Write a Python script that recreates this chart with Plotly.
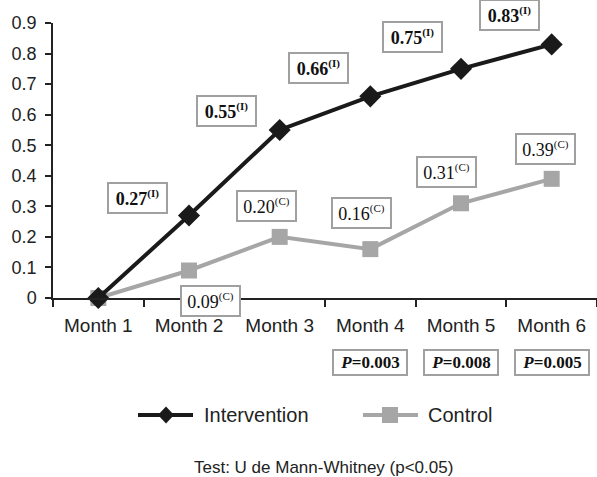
import plotly.graph_objects as go

months = ["Month 1", "Month 2", "Month 3", "Month 4", "Month 5", "Month 6"]
intervention = [0, 0.27, 0.55, 0.66, 0.75, 0.83]
control = [0, 0.09, 0.20, 0.16, 0.31, 0.39]
int_labels = ["", "0.27", "0.55", "0.66", "0.75", "0.83"]
ctl_labels = ["", "0.09", "0.20", "0.16", "0.31", "0.39"]
p_months = ["Month 4", "Month 5", "Month 6"]
p_values = ["0.003", "0.008", "0.005"]
yticks = [0, 0.1, 0.2, 0.3, 0.4, 0.5, 0.6, 0.7, 0.8, 0.9]
ytick_text = ["0", "0.1", "0.2", "0.3", "0.4", "0.5", "0.6", "0.7", "0.8", "0.9"]

# label offsets in pixels (style, not data)
int_shift = [None, (-52, 18), (-53, 19), (-52, 28), (-49, 32), (-42, 29)]
ctl_shift = [None, (21, -30), (-13, 31), (-9, 36), (-15, 31), (-6, 30)]

INT_COLOR = "#1a1a1a"
CTL_COLOR = "#a6a6a6"
BOX_COLOR = "#a0a0a0"
SERIF = "Liberation Serif, Times New Roman, serif"
SANS = "Liberation Sans, Arial, sans-serif"

FIG_W, FIG_H = 597, 477
L, T, W, H = 53, 23, 544, 275


def px(xpage):
    return (xpage - L) / W


def py(ypage):
    return (T + H - ypage) / H


def sup(s):
    return "<sup><span style='font-size:11px'>" + s + "</span></sup>"


fig = go.Figure()
fig.add_trace(go.Scatter(
    x=months, y=control, mode="lines+markers", name="Control",
    line=dict(color=CTL_COLOR, width=4),
    marker=dict(symbol="square", size=16, color=CTL_COLOR),
    cliponaxis=False, showlegend=False))
fig.add_trace(go.Scatter(
    x=months, y=intervention, mode="lines+markers", name="Intervention",
    line=dict(color=INT_COLOR, width=4),
    marker=dict(symbol="diamond", size=17, color=INT_COLOR),
    cliponaxis=False, showlegend=False))

annotations = []
for m, v, lab, sh in zip(months, intervention, int_labels, int_shift):
    if not lab:
        continue
    annotations.append(dict(
        x=m, y=v, xref="x", yref="y", xshift=sh[0], yshift=sh[1],
        text="<b>" + lab + sup("(I)") + "</b>", showarrow=False,
        font=dict(family=SERIF, size=18, color="#111"),
        bordercolor=BOX_COLOR, borderwidth=2, borderpad=1,
        bgcolor="white", width=55, height=26))
for m, v, lab, sh in zip(months, control, ctl_labels, ctl_shift):
    if not lab:
        continue
    annotations.append(dict(
        x=m, y=v, xref="x", yref="y", xshift=sh[0], yshift=sh[1],
        text=lab + sup("(C)"), showarrow=False,
        font=dict(family=SERIF, size=18, color="#111"),
        bordercolor=BOX_COLOR, borderwidth=2, borderpad=1,
        bgcolor="white", width=55, height=26))
for m, p in zip(p_months, p_values):
    annotations.append(dict(
        x=m, y=py(362), xref="x", yref="paper", xanchor="center", yanchor="middle",
        text="<b><i>P</i>=" + p + "</b>", showarrow=False,
        font=dict(family=SERIF, size=17, color="#111"),
        bordercolor=BOX_COLOR, borderwidth=2, borderpad=1,
        bgcolor="white", width=70, height=21))

# manual legend
annotations.append(dict(x=px(202), y=py(415), xref="paper", yref="paper",
                        xanchor="left", yanchor="middle", showarrow=False,
                        text="Intervention", font=dict(family=SANS, size=20, color="#222")))
annotations.append(dict(x=px(426), y=py(415), xref="paper", yref="paper",
                        xanchor="left", yanchor="middle", showarrow=False,
                        text="Control", font=dict(family=SANS, size=20, color="#222")))
annotations.append(dict(x=px(323), y=py(467), xref="paper", yref="paper",
                        xanchor="center", yanchor="middle", showarrow=False,
                        text="Test: U de Mann-Whitney (p&lt;0.05)",
                        font=dict(family=SANS, size=17, color="#222")))

shapes = [
    dict(type="line", xref="paper", yref="paper", x0=px(138), x1=px(193),
         y0=py(415), y1=py(415), line=dict(color=INT_COLOR, width=4)),
    dict(type="path", xref="paper", yref="paper", xsizemode="pixel", ysizemode="pixel",
         xanchor=px(166), yanchor=py(415), path="M-8,0 L0,8.5 L8,0 L0,-8.5 Z",
         fillcolor=INT_COLOR, line=dict(width=0)),
    dict(type="line", xref="paper", yref="paper", x0=px(363), x1=px(418),
         y0=py(415), y1=py(415), line=dict(color=CTL_COLOR, width=4)),
    dict(type="rect", xref="paper", yref="paper", xsizemode="pixel", ysizemode="pixel",
         xanchor=px(390), yanchor=py(415), x0=-8, x1=8, y0=-8, y1=8,
         fillcolor=CTL_COLOR, line=dict(width=0)),
]

fig.update_layout(
    width=FIG_W, height=FIG_H,
    margin=dict(l=L, r=FIG_W - L - W, t=T, b=FIG_H - T - H, pad=0),
    paper_bgcolor="white", plot_bgcolor="white",
    annotations=annotations, shapes=shapes,
    xaxis=dict(type="category", tickson="boundaries", ticks="outside", ticklen=7,
               tickcolor="#222", tickwidth=1.5, showline=True, linecolor="#222",
               linewidth=1.5, showgrid=False, zeroline=False,
               ticklabelstandoff=9,
               tickfont=dict(family=SANS, size=19, color="#222"),
               range=[-0.5, 5.5]),
    yaxis=dict(range=[0, 0.9], tickvals=yticks, ticktext=ytick_text,
               ticks="outside", ticklen=6, tickcolor="#222", tickwidth=1.5,
               showline=True, linecolor="#222", linewidth=1.5,
               showgrid=False, zeroline=False, ticklabelstandoff=5,
               tickfont=dict(family=SANS, size=18, color="#222")),
)

fig.write_html(
    "out.html",
    config={"displayModeBar": False},
    post_script="document.body.style.margin='0px';document.body.style.overflow='hidden';",
)
